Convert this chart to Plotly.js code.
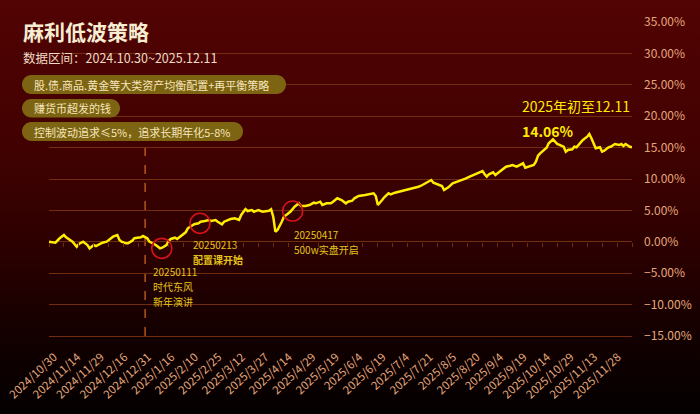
<!DOCTYPE html>
<html>
<head>
<meta charset="utf-8">
<script src="https://cdn.plot.ly/plotly-3.0.1.min.js"></script>
<style>
  html, body { margin: 0; padding: 0; }
  body { width: 700px; height: 414px; overflow: hidden;
    background: linear-gradient(to bottom, #520303 0%, #420101 35%, #2a0000 62%, #120000 82%, #040000 100%); }
  #chart { width: 700px; height: 414px; }
</style>
</head>
<body>
<div id="chart"></div>
<script>
// ---------------- data ----------------
const tickDates = ["2024/10/30","2024/11/14","2024/11/29","2024/12/16","2024/12/31","2025/1/16","2025/2/10","2025/2/25","2025/3/12","2025/3/27","2025/4/14","2025/4/29","2025/5/19","2025/6/4","2025/6/19","2025/7/4","2025/7/21","2025/8/5","2025/8/20","2025/9/4","2025/9/19","2025/10/14","2025/10/29","2025/11/13","2025/11/28"];
const tickIdx = [0,11,22,33,44,55,66,77,88,99,110,121,132,143,154,165,176,187,198,209,220,231,242,253,264];

// trading-day index and cumulative return (%)
const dayIdx = [0,3,5,7,8,10,11,13,14,16,18,19,21,22,24,25,27,29,30,32,33,34,36,37,39,40,43,44,46,47,
  50,52,53,55,56,57,59,60,62,64,65,67,68,70,71,73,75,76,78,79,81,82,84,85,87,89,90,92,93,95,96,98,
  100,103,104,105,106,107,109,110,113,115,117,118,120,122,124,125,127,128,130,132,133,135,137,139,140,142,143,145,
  148,150,152,153,154,156,157,159,160,162,164,167,169,171,173,174,176,178,179,180,182,184,185,187,189,191,193,195,197,199,
  201,203,204,205,206,208,209,211,213,214,216,217,219,220,222,223,225,227,228,229,230,231,233,234,235,236,238,239,
  241,242,243,245,246,247,248,249,250,252,253,254,255,256,258,259,260,262,263,265,267,268,269,270,272,273];
const returns = [0.00,-0.14,0.56,1.08,0.72,0.29,0.02,-0.78,-0.35,0.02,-0.51,-1.04,-0.51,-0.67,-0.35,-0.14,0.02,0.56,0.81,1.08,0.29,0.02,-0.24,-0.24,0.18,0.56,0.72,0.92,0.56,0.02,
  -0.51,-1.04,-0.94,-0.51,0.13,0.45,0.65,0.45,0.97,1.51,2.15,2.56,2.79,2.95,3.20,3.31,3.47,3.31,3.47,3.20,2.79,3.20,3.47,3.63,3.74,3.47,4.27,5.22,4.90,5.06,4.79,5.06,
  4.79,4.95,5.18,4.00,1.61,1.88,3.20,4.00,4.79,5.59,6.13,5.70,5.70,5.86,6.23,6.13,6.39,5.86,6.13,6.13,6.39,6.93,6.66,6.13,6.39,6.54,6.93,7.29,
  7.45,7.61,7.72,7.29,5.86,6.66,7.09,7.72,7.56,7.82,7.98,8.25,8.36,8.52,8.77,8.89,9.32,9.73,9.84,9.41,9.20,8.89,8.25,8.68,9.32,9.57,9.73,10.05,10.37,10.64,
  10.91,11.27,10.75,10.37,10.75,11.07,10.64,11.16,11.70,11.96,12.12,12.23,11.96,12.12,12.50,11.80,11.96,12.23,12.75,13.71,14.09,14.35,14.98,15.68,15.94,16.32,15.57,15.41,
  15.14,14.35,14.62,14.73,15.14,15.05,15.41,15.78,16.21,16.74,17.17,16.48,15.57,14.89,15.05,14.35,14.51,15.05,15.14,15.57,15.41,15.57,15.25,15.57,15.14,15.05];

const yearStartIdx = 45;
const eventIdx = [52.8, 70.7, 114.1];
const eventVal = [-1.04, 2.95, 4.90];
const eventDate = ["20250111","20250213","20250417"];
const eventNote = [["时代东风","新年演讲"],["配置课开始"],["500w实盘开启"]];

const titleText = "麻利低波策略";
const subtitleText = "数据区间：2024.10.30~2025.12.11";
const pillTexts = ["股.债.商品.黄金等大类资产均衡配置+再平衡策略","赚货币超发的钱","控制波动追求≤5%，追求长期年化5-8%"];
const ytdLabel = "2025年初至12.11";
const ytdValue = "14.06%";

// ---------------- layout helpers ----------------
const ML = 49, MR = 68, MT = 22, MB = 78, W = 700, H = 414;
const PW = W - ML - MR, PH = H - MT - MB;
const fx = p => (p - ML) / PW;
const fy = p => (H - MB - p) / PH;

function pillPath(x0, y0, x1, y1) {
  const r = (y1 - y0) / 2, k = 0.5523 * r;
  const P = (x, y) => fx(x).toFixed(5) + "," + fy(y).toFixed(5);
  return "M" + P(x0 + r, y0) + " L" + P(x1 - r, y0) +
    " C" + P(x1 - r + k, y0) + " " + P(x1, y0 + r - k) + " " + P(x1, y0 + r) +
    " C" + P(x1, y0 + r + k) + " " + P(x1 - r + k, y1) + " " + P(x1 - r, y1) +
    " L" + P(x0 + r, y1) +
    " C" + P(x0 + r - k, y1) + " " + P(x0, y0 + r + k) + " " + P(x0, y0 + r) +
    " C" + P(x0, y0 + r - k) + " " + P(x0 + r - k, y0) + " " + P(x0 + r, y0) + " Z";
}

const FONT = '"Noto Sans CJK SC", "Noto Sans", sans-serif';
const GRID = '#722c10';
const TICKC = '#e2a77c';
const YEL = '#ffec00';
const GOLDTXT = '#e3c41a';

const pillBoxes = [[22, 75, 286, 94], [22, 99, 120, 117.5], [22, 122, 243, 141]];

const shapes = [];
pillBoxes.forEach(b => shapes.push({
  type: 'path', xref: 'paper', yref: 'paper', path: pillPath(b[0], b[1], b[2], b[3]),
  fillcolor: '#7d6413', line: { width: 0 }, layer: 'above'
}));
shapes.push({
  type: 'line', xref: 'x', yref: 'y', x0: yearStartIdx, x1: yearStartIdx, y0: -15, y1: 15,
  line: { color: '#d86a22', width: 1.2, dash: 'dash' }, layer: 'below'
});
eventIdx.forEach((ix, i) => shapes.push({
  type: 'circle', xref: 'x', yref: 'y', xsizemode: 'pixel', ysizemode: 'pixel',
  xanchor: ix, yanchor: eventVal[i], x0: -10, x1: 10, y0: -10, y1: 10,
  line: { color: '#d4121a', width: 1.6 }, fillcolor: 'rgba(0,0,0,0)', layer: 'above'
}));

const annotations = [];
annotations.push({ xref: 'paper', yref: 'paper', x: fx(21), y: fy(31), xanchor: 'left', yanchor: 'middle',
  text: '<b>' + titleText + '</b>', showarrow: false, font: { family: FONT, size: 21, color: '#f7edd3' } });
annotations.push({ xref: 'paper', yref: 'paper', x: fx(21), y: fy(58), xanchor: 'left', yanchor: 'middle',
  text: subtitleText, showarrow: false, font: { family: FONT, size: 12.5, color: '#efdcc4' } });
pillTexts.forEach((t, i) => {
  const b = pillBoxes[i];
  annotations.push({ xref: 'paper', yref: 'paper', x: fx(b[0] + 10), y: fy((b[1] + b[3]) / 2), xanchor: 'left', yanchor: 'middle',
    text: t, showarrow: false, font: { family: FONT, size: 11, color: '#f6e6bc' } });
});
annotations.push({ xref: 'paper', yref: 'paper', x: fx(520), y: fy(106), xanchor: 'left', yanchor: 'middle',
  text: ytdLabel, showarrow: false, font: { family: FONT, size: 14, color: YEL } });
annotations.push({ xref: 'paper', yref: 'paper', x: fx(520), y: fy(130.5), xanchor: 'left', yanchor: 'middle',
  text: '<b>' + ytdValue + '</b>', showarrow: false, font: { family: FONT, size: 14, color: YEL } });

// event labels (offset below each circle)
const labelPos = [[151, 271], [191, 244.5], [292, 234.5]];
eventDate.forEach((d, i) => {
  const lines = [d].concat(eventNote[i]);
  lines.forEach((t, j) => {
    annotations.push({ xref: 'paper', yref: 'paper', x: fx(labelPos[i][0]), y: fy(labelPos[i][1] + 15 * j),
      xanchor: 'left', yanchor: 'middle', text: (j > 0 && i === 1) ? '<b>' + t + '</b>' : t, showarrow: false,
      font: { family: FONT, size: 10, color: GOLDTXT } });
  });
});

const traces = [
  { x: dayIdx, y: returns, type: 'scatter', mode: 'lines', line: { color: YEL, width: 2.5 }, hoverinfo: 'skip' },
  { x: dayIdx, y: returns, type: 'scatter', mode: 'lines', xaxis: 'x2', yaxis: 'y', opacity: 0,
    line: { width: 0 }, hoverinfo: 'skip', showlegend: false }
];

const layout = {
  width: W, height: H,
  margin: { l: ML, r: MR, t: MT, b: MB, pad: 0 },
  paper_bgcolor: 'rgba(0,0,0,0)', plot_bgcolor: 'rgba(0,0,0,0)',
  showlegend: false,
  font: { family: FONT, color: TICKC },
  xaxis: {
    range: [0, 273], tickmode: 'array', tickvals: tickIdx, ticktext: tickDates, tickangle: -43,
    showgrid: false, zeroline: false, showline: true, linecolor: GRID, linewidth: 1,
    ticks: '', ticklabelstandoff: 9, ticklabelshift: 5, ticklabeloverflow: 'allow',
    tickfont: { family: FONT, size: 11.5, color: TICKC }, fixedrange: true
  },
  xaxis2: {
    range: [0, 273], overlaying: 'x', anchor: 'free', position: 15 / 50, side: 'bottom',
    tickmode: 'linear', tick0: 0, dtick: 7, ticks: 'outside', ticklen: 4, tickwidth: 1, tickcolor: GRID,
    showticklabels: false, showgrid: false, zeroline: false, showline: false
  },
  yaxis: {
    range: [-15, 35], tickmode: 'linear', tick0: -15, dtick: 5, side: 'right',
    tickformat: '.2f', ticksuffix: '%', showgrid: true, gridcolor: GRID, gridwidth: 1,
    zeroline: false, showline: false, ticks: '', ticklabelstandoff: 11,
    tickfont: { family: FONT, size: 12, color: TICKC }, fixedrange: true
  },
  shapes: shapes,
  annotations: annotations
};

Plotly.newPlot('chart', traces, layout, { displayModeBar: false, staticPlot: true });
</script>
</body>
</html>
